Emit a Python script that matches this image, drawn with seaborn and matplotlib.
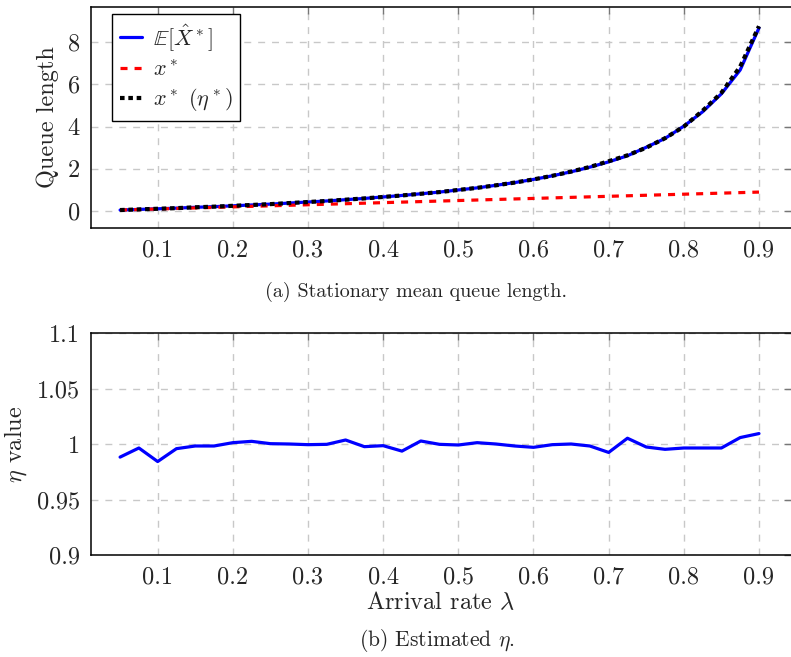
import numpy as np
import pandas as pd
import seaborn as sns
import matplotlib.pyplot as plt

# ---------------------------- data ----------------------------#
lam = [0.05, 0.075, 0.1, 0.125, 0.15, 0.175, 0.2, 0.225, 0.25, 0.275, 0.3, 0.325,
       0.35, 0.375, 0.4, 0.425, 0.45, 0.475, 0.5, 0.525, 0.55, 0.575, 0.6, 0.625,
       0.65, 0.675, 0.7, 0.725, 0.75, 0.775, 0.8, 0.825, 0.85, 0.875, 0.9]

# E[X^*] (blue solid)
mean_queue = [0.05, 0.08, 0.11, 0.14, 0.18, 0.21, 0.25, 0.29, 0.33, 0.38, 0.43, 0.48,
              0.54, 0.60, 0.67, 0.74, 0.82, 0.90, 1.00, 1.10, 1.22, 1.35, 1.50, 1.67,
              1.86, 2.08, 2.33, 2.62, 3.02, 3.44, 4.02, 4.70, 5.55, 6.68, 8.67]

# x^* (red dashed)
x_star = [0.05, 0.075, 0.1, 0.125, 0.15, 0.175, 0.2, 0.225, 0.25, 0.275, 0.3, 0.325,
          0.35, 0.375, 0.4, 0.425, 0.45, 0.475, 0.5, 0.525, 0.55, 0.575, 0.6, 0.625,
          0.65, 0.675, 0.7, 0.725, 0.75, 0.775, 0.8, 0.825, 0.85, 0.875, 0.9]

# x^*(eta^*) (black dotted)
x_star_eta = [0.05, 0.08, 0.11, 0.14, 0.18, 0.21, 0.25, 0.29, 0.33, 0.38, 0.43, 0.48,
              0.54, 0.60, 0.67, 0.74, 0.82, 0.90, 1.00, 1.10, 1.22, 1.35, 1.50, 1.67,
              1.87, 2.09, 2.36, 2.64, 3.00, 3.45, 4.00, 4.75, 5.60, 6.84, 8.75]

# estimated eta
eta = [0.9882, 0.9964, 0.9842, 0.9958, 0.9982, 0.9982, 1.0012, 1.0024, 1.0003, 1.0000,
       0.9994, 0.9997, 1.0036, 0.9976, 0.9985, 0.9936, 1.0027, 0.9997, 0.9991, 1.0012,
       1.0000, 0.9982, 0.9970, 0.9994, 1.0000, 0.9982, 0.9924, 1.0052, 0.9973, 0.9952,
       0.9964, 0.9964, 0.9964, 1.0058, 1.0094]

x_ticks = [0.1, 0.2, 0.3, 0.4, 0.5, 0.6, 0.7, 0.8, 0.9]
x_tick_labels = ['0.1', '0.2', '0.3', '0.4', '0.5', '0.6', '0.7', '0.8', '0.9']
top_y_ticks = [0, 2, 4, 6, 8]
bot_y_ticks = [0.9, 0.95, 1.0, 1.05, 1.1]
bot_y_tick_labels = ['0.9', '0.95', '1', '1.05', '1.1']

df = pd.DataFrame({'lam': lam, 'mean': mean_queue, 'xs': x_star,
                   'xse': x_star_eta, 'eta': eta})

# ---------------------------- style ----------------------------#
sns.set_style('white')
plt.rcParams['font.family'] = 'serif'
plt.rcParams['font.serif'] = ['cmr10']
plt.rcParams['mathtext.fontset'] = 'cm'
plt.rcParams['axes.formatter.use_mathtext'] = True

FS = 17.5
grid_kw = dict(color='#c8c8c8', linestyle=(0, (5, 5)), linewidth=1.0)

fig = plt.figure(figsize=(7.91, 6.57), dpi=100)
W, H = 791, 657
ax1 = fig.add_axes([91 / W, 1 - 228 / H, 700 / W, 221 / H])
ax2 = fig.add_axes([91 / W, 1 - 555 / H, 700 / W, 222 / H])

# ---------------------------- top: queue length ----------------------------#
sns.lineplot(data=df, x='lam', y='mean', ax=ax1, color='blue', linewidth=2.3,
             label=r'$\mathbb{E}[\hat{X}^*]$')
sns.lineplot(data=df, x='lam', y='xs', ax=ax1, color='red', linewidth=2.3,
             linestyle=(0, (2.2, 2.2)), label=r'$x^*$')
sns.lineplot(data=df, x='lam', y='xse', ax=ax1, color='black', linewidth=3.0,
             linestyle=(0, (1.1, 0.9)), label=r'$x^*\ (\eta^*)$')

ax1.set_xlim(0.0113, 0.9426)
ax1.set_ylim(-0.8, 9.66)
ax1.set_yticks(top_y_ticks)
ax1.set_yticklabels([str(t) for t in top_y_ticks])
ax1.set_ylabel('Queue length', fontsize=FS)
ax1.yaxis.set_label_coords(-0.046, 0.5)
ax1.set_xlabel('')

leg = ax1.legend(loc='upper left', bbox_to_anchor=(0.03, 0.968), borderaxespad=0,
                 fontsize=16, frameon=True, fancybox=False, framealpha=1,
                 edgecolor='black', handlelength=1.0, handletextpad=0.5,
                 labelspacing=0.3, borderpad=0.35)
leg.get_frame().set_linewidth(1.0)

# ---------------------------- bottom: eta ----------------------------#
sns.lineplot(data=df, x='lam', y='eta', ax=ax2, color='blue', linewidth=2.3)
ax2.set_xlim(0.0113, 0.9426)
ax2.set_ylim(0.9, 1.1)
ax2.set_yticks(bot_y_ticks)
ax2.set_yticklabels(bot_y_tick_labels)
ax2.set_ylabel(r'$\eta$ value', fontsize=FS)
ax2.yaxis.set_label_coords(-0.089, 0.5)
ax2.set_xlabel(r'Arrival rate $\lambda$', fontsize=FS)
ax2.xaxis.set_label_coords(0.5, -0.165)

for ax in (ax1, ax2):
    ax.set_xticks(x_ticks)
    ax.set_xticklabels(x_tick_labels)
    ax.grid(True, **grid_kw)
    ax.set_axisbelow(True)
    ax.tick_params(direction='in', length=5, width=1, color='#777777',
                   top=True, right=True, labelsize=FS, pad=8)
    for s in ('left', 'bottom', 'top'):
        ax.spines[s].set_color('black')
        ax.spines[s].set_linewidth(1.1)
    ax.spines['right'].set_visible(False)

# ---------------------------- captions ----------------------------#
fig.text(416 / W, 1 - 292 / H, '(a) Stationary mean queue length.',
         ha='center', va='center', fontsize=14.5)
fig.text(437 / W, 1 - 640 / H, r'(b) Estimated $\eta$.',
         ha='center', va='center', fontsize=15.5)

fig.savefig('out.png', dpi=100)
